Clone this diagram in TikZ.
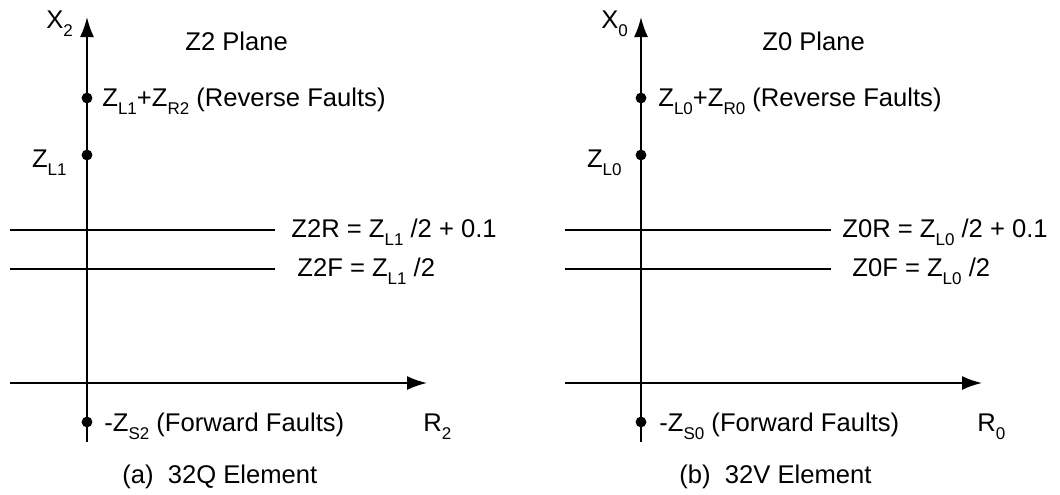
\documentclass[tikz,border=0pt]{standalone}
\usepackage{fontspec}
\setmainfont{Liberation Sans}
\usetikzlibrary{arrows.meta}
\newcommand{\lowsub}[1]{\raisebox{-4pt}{\fontsize{8.5}{8.5}\selectfont #1}}
\tikzset{
  axisline/.style={line width=1pt, -{Latex[length=10pt,width=7pt]}},
  refline/.style={line width=0.85pt},
  dot/.style={circle, fill=black, inner sep=0pt, minimum size=5.4pt},
  lbl/.style={anchor=base west, inner sep=0pt, font=\fontsize{12.8}{14}\selectfont},
  lble/.style={anchor=base east, inner sep=0pt, font=\fontsize{12.8}{14}\selectfont}
}
\begin{document}
\begin{tikzpicture}[x=0.5pt,y=-0.5pt]
\useasboundingbox (0,0) rectangle (1060,494);
% ---------- left panel ----------
\coordinate (vaB) at (87,442);
\coordinate (vaT) at (87,17);
\coordinate (haL) at (10,383);
\coordinate (haR) at (427,383);
\coordinate (rRL) at (10,230);
\coordinate (rRR) at (275,230);
\coordinate (rFL) at (10,269);
\coordinate (rFR) at (275,269);
\draw[axisline] (vaB) -- (vaT);
\draw[axisline] (haL) -- (haR);
\draw[refline] (rRL) -- (rRR);
\draw[refline] (rFL) -- (rFR);
\node[dot] (d1) at (87,98) {};
\node[dot] (d2) at (87,155) {};
\node[dot] (d3) at (87,422) {};
\node[lbl] (xa) at (46,28) {X\lowsub{2}};
\node[lbl] (pa) at (185,50) {Z2 Plane};
\node[lbl] (reva) at (102,106) {Z\lowsub{L1}+Z\lowsub{R2} (Reverse Faults)};
\node[lble] (zla) at (67,167) {Z\lowsub{L1}};
\node[lbl] (zra) at (291,237) {Z2R = Z\lowsub{L1} /2 + 0.1};
\node[lbl] (zfa) at (297,276) {Z2F = Z\lowsub{L1} /2};
\node[lbl] (fwa) at (104,431) {-Z\lowsub{S2} (Forward Faults)};
\node[lbl] (ra) at (423,431) {R\lowsub{2}};
\node[lbl] (ca) at (122,483) {(a)\ \ 32Q Element};
% ---------- right panel ----------
\coordinate (vbB) at (641,442);
\coordinate (vbT) at (641,17);
\coordinate (hbL) at (565,383);
\coordinate (hbR) at (982,383);
\coordinate (sRL) at (565,230);
\coordinate (sRR) at (831,230);
\coordinate (sFL) at (565,269);
\coordinate (sFR) at (831,269);
\draw[axisline] (vbB) -- (vbT);
\draw[axisline] (hbL) -- (hbR);
\draw[refline] (sRL) -- (sRR);
\draw[refline] (sFL) -- (sFR);
\node[dot] (e1) at (641,98) {};
\node[dot] (e2) at (641,155) {};
\node[dot] (e3) at (641,422) {};
\node[lbl] (xb) at (601,28) {X\lowsub{0}};
\node[lbl] (pb) at (762,50) {Z0 Plane};
\node[lbl] (revb) at (658,106) {Z\lowsub{L0}+Z\lowsub{R0} (Reverse Faults)};
\node[lble] (zlb) at (622,167) {Z\lowsub{L0}};
\node[lbl] (zrb) at (842,237) {Z0R = Z\lowsub{L0} /2 + 0.1};
\node[lbl] (zfb) at (852,276) {Z0F = Z\lowsub{L0} /2};
\node[lbl] (fwb) at (659,431) {-Z\lowsub{S0} (Forward Faults)};
\node[lbl] (rb) at (977,431) {R\lowsub{0}};
\node[lbl] (cb) at (679,483) {(b)\ \ 32V Element};
\end{tikzpicture}
\end{document}
